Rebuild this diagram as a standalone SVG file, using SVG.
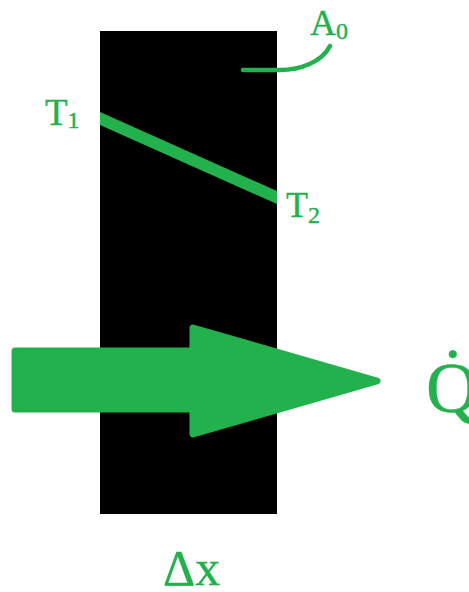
<svg xmlns="http://www.w3.org/2000/svg" width="469" height="592" viewBox="0 0 469 592">
<style>
.lbl{font-family:"Liberation Serif","Times New Roman",serif;fill:#22B14C;stroke:#22B14C;stroke-width:0.4}
.g{fill:#22B14C}
.gs{fill:none;stroke:#22B14C}
</style>
<rect width="469" height="592" fill="#fff"/>
<g id="wall"><rect x="100" y="31" width="177" height="483" fill="#000"/></g>
<g id="connectors">
<polygon class="g" points="100,112 277,191 277,204 100,125"/>
<path class="gs" d="M243,70 L280,70 C300,70 322,62 330,46" stroke-width="4.5" stroke-linecap="round"/>
</g>
<g id="arrow">
<polygon class="g" points="15,351 193,351 193,328 377,381 193,434 193,409 15,409" stroke="#22B14C" stroke-width="7" stroke-linejoin="round"/>
</g>
<g id="T1"><text class="lbl" x="45" y="125" font-size="37">T<tspan font-size="24" y="128">1</tspan></text></g>
<g id="T2"><text class="lbl" x="286" y="217" font-size="36">T<tspan font-size="24" y="223">2</tspan></text></g>
<g id="A0"><text class="lbl" x="310" y="35" font-size="36">A<tspan font-size="24" y="39">0</tspan></text></g>
<g id="Q"><text class="lbl" x="426" y="412" font-size="72">Q̇</text></g>
<g id="dx"><text class="lbl" x="163" y="585" font-size="50">Δx</text></g>
</svg>
